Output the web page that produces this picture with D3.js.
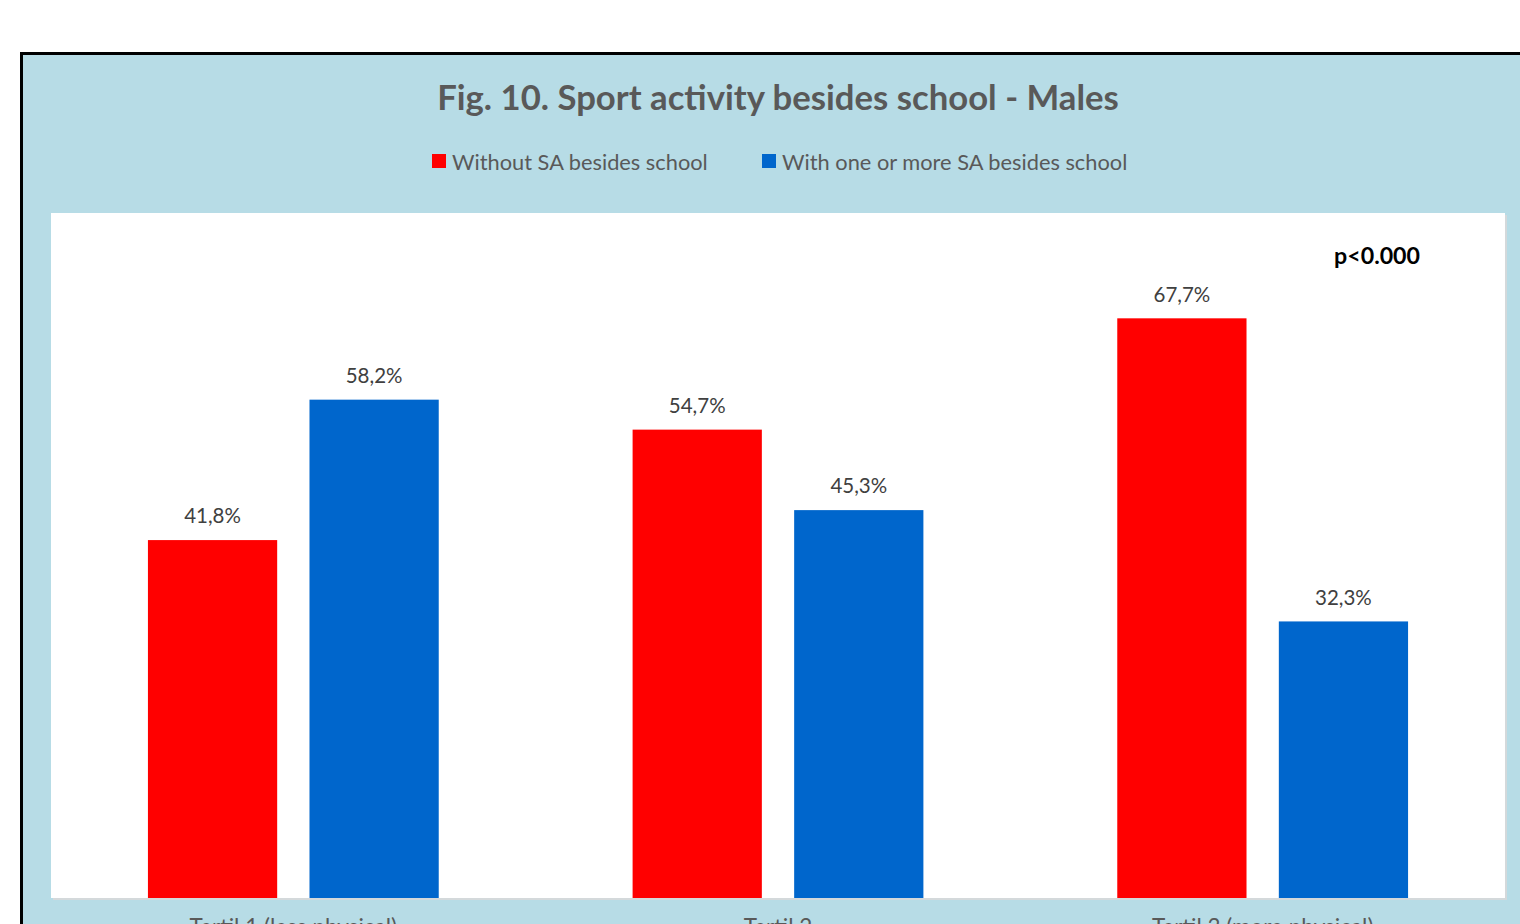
<!DOCTYPE html>
<html>
<head>
<meta charset="utf-8">
<script src="https://cdn.jsdelivr.net/npm/d3@7"></script>
<style>
html,body{margin:0;padding:0;background:#fff;overflow:hidden;}
svg{display:block;}
</style>
</head>
<body>
<svg id="chart" width="1520" height="924"></svg>
<script>
const categories = ["Tertil 1 (less physical)", "Tertil 2", "Tertil 3 (more physical)"];
const seriesNames = ["Without SA besides school", "With one or more SA besides school"];
const withoutSA = [41.8, 54.7, 67.7];
const withSA = [58.2, 45.3, 32.3];
const seriesColors = ["#ff0000", "#0066cc"];
const titleText = "Fig. 10. Sport activity besides school - Males";
const pText = "p<0.000";

const svg = d3.select("#chart");
const font = "Lato, 'Open Sans', sans-serif";

// outer frame
svg.append("rect").attr("x", 21.5).attr("y", 53.5).attr("width", 1530).attr("height", 900)
  .attr("fill", "#b7dce6").attr("stroke", "#000").attr("stroke-width", 3);

const plot = {x: 51, y: 213, w: 1454, h: 685};

// plot area shadow + background
svg.append("rect").attr("x", plot.x + 2).attr("y", plot.y + 2).attr("width", plot.w).attr("height", plot.h)
  .attr("fill", "#d4d9db");
svg.append("rect").attr("x", plot.x).attr("y", plot.y).attr("width", plot.w).attr("height", plot.h)
  .attr("fill", "#ffffff");

const x0 = d3.scaleBand().domain(categories).range([plot.x, plot.x + plot.w]).paddingInner(0.4).paddingOuter(0.2);
const x1 = d3.scaleBand().domain(seriesNames).range([0, x0.bandwidth()]).paddingInner(0.2);
const y = d3.scaleLinear().domain([0, 80]).range([plot.y + plot.h, plot.y]);

const data = categories.map((c, i) => ({cat: c, vals: [
  {s: seriesNames[0], v: withoutSA[i], c: seriesColors[0]},
  {s: seriesNames[1], v: withSA[i], c: seriesColors[1]}
]}));

const g = svg.selectAll("g.grp").data(data).join("g").attr("class", "grp")
  .attr("transform", d => `translate(${x0(d.cat)},0)`);

g.selectAll("rect").data(d => d.vals).join("rect")
  .attr("x", d => x1(d.s)).attr("width", x1.bandwidth())
  .attr("y", d => y(d.v)).attr("height", d => y(0) - y(d.v))
  .attr("fill", d => d.c);

g.selectAll("text.val").data(d => d.vals).join("text").attr("class", "val")
  .attr("x", d => x1(d.s) + x1.bandwidth() / 2)
  .attr("y", d => y(d.v) - 22)
  .attr("text-anchor", "middle").attr("dominant-baseline", "middle")
  .attr("font-family", font).attr("font-size", 20.5).attr("fill", "#404040")
  .text(d => d.v.toFixed(1).replace(".", ",") + "%");

// category axis labels
const xAxis = d3.axisBottom(x0).tickSize(0).tickPadding(0);
const ax = svg.append("g").attr("transform", `translate(0,${plot.y + plot.h})`).call(xAxis);
ax.select(".domain").remove();
ax.selectAll("text").attr("font-family", font).attr("font-size", 22.5).attr("fill", "#595959")
  .attr("dy", null).attr("y", 37);

// title
svg.append("text").attr("x", 778).attr("y", 101).attr("text-anchor", "middle").attr("dominant-baseline", "middle")
  .attr("font-family", font).attr("font-weight", "bold").attr("font-size", 34.7).attr("fill", "#595959")
  .text(titleText);

// legend
const legX = [432, 762];
const leg = svg.selectAll("g.leg").data(seriesNames).join("g").attr("class", "leg")
  .attr("transform", (d, i) => `translate(${legX[i]},164)`);
leg.append("rect").attr("x", 0).attr("y", -10).attr("width", 14).attr("height", 14)
  .attr("fill", (d, i) => seriesColors[i]);
leg.append("text").attr("x", 20).attr("y", 0).attr("dominant-baseline", "middle")
  .attr("font-family", font).attr("font-size", 21.8).attr("fill", "#595959").text(d => d);

// p value
svg.append("text").attr("x", 1420).attr("y", 258).attr("text-anchor", "end").attr("dominant-baseline", "middle")
  .attr("font-family", font).attr("font-weight", "bold").attr("font-size", 23.2).attr("fill", "#000")
  .text(pText);
</script>
</body>
</html>
